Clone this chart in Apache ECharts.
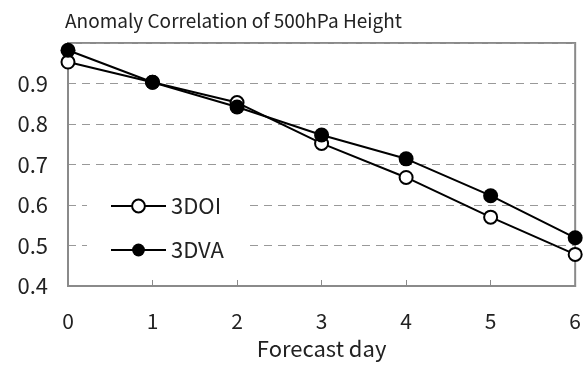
<!DOCTYPE html>
<html>
<head>
<meta charset="utf-8">
<script src="https://cdn.jsdelivr.net/npm/echarts@6/dist/echarts.min.js"></script>
<style>
  html, body { margin: 0; padding: 0; background: #fff; }
  #chart { width: 584px; height: 365px; }
</style>
</head>
<body>
<div id="chart"></div>
<script>
const days = [0, 1, 2, 3, 4, 5, 6]
const oi = [0.953, 0.903, 0.853, 0.752, 0.668, 0.570, 0.478]
const va = [0.982, 0.903, 0.842, 0.773, 0.714, 0.623, 0.519]

const chart = echarts.init(document.getElementById('chart'))
const font = '"Noto Sans CJK KR", sans-serif'
const gray = '#8a8a8a'

chart.setOption({
  animation: false,
  textStyle: { fontFamily: font },
  title: {
    text: 'Anomaly Correlation of 500hPa Height',
    left: 60,
    top: 6,
    textStyle: { fontSize: 19, fontWeight: 'normal', color: '#222', fontFamily: font },
  },
  grid: {
    left: 68, right: 6, top: 43, bottom: 77,
    show: true, borderColor: gray, borderWidth: 2,
  },
  legend: {
    orient: 'vertical',
    left: 87,
    top: 183,
    padding: [12, 22, 12, 23],
    backgroundColor: '#fff',
    itemWidth: 55,
    itemHeight: 16,
    itemGap: 22,
    textStyle: { fontSize: 22, color: '#222', fontFamily: font },
    data: ['3DOI', '3DVA'],
  },
  xAxis: {
    type: 'value',
    min: 0, max: 6, interval: 1,
    axisLine: { show: true, lineStyle: { color: gray, width: 2 } },
    axisTick: { show: true, inside: true, length: 6, lineStyle: { color: gray } },
    splitLine: { show: false },
    axisLabel: { fontSize: 21, color: '#222', margin: 25 },
    name: 'Forecast day',
    nameLocation: 'middle',
    nameGap: 52,
    nameTextStyle: { fontSize: 22, color: '#222' },
  },
  yAxis: {
    type: 'value',
    min: 0.4, max: 1.0, interval: 0.1,
    axisLine: { show: true, lineStyle: { color: gray, width: 2 } },
    axisTick: { show: false },
    axisLabel: {
      fontSize: 22, color: '#222', margin: 20,
      formatter: (v) => (v > 0.95 ? '' : v.toFixed(1)),
    },
    splitLine: { show: true, lineStyle: { color: '#999', type: [8, 6], width: 1 } },
  },
  series: [
    {
      name: '3DOI',
      type: 'line',
      data: days.map((d, i) => [d, oi[i]]),
      symbol: 'circle',
      symbolSize: 13,
      lineStyle: { color: '#000', width: 2 },
      itemStyle: { color: '#fff', borderColor: '#000', borderWidth: 2 },
      z: 3,
    },
    {
      name: '3DVA',
      type: 'line',
      data: days.map((d, i) => [d, va[i]]),
      symbol: 'circle',
      symbolSize: 15,
      lineStyle: { color: '#000', width: 2 },
      itemStyle: { color: '#000', borderColor: '#000', borderWidth: 0 },
      z: 4,
    },
  ],
})
</script>
</body>
</html>
